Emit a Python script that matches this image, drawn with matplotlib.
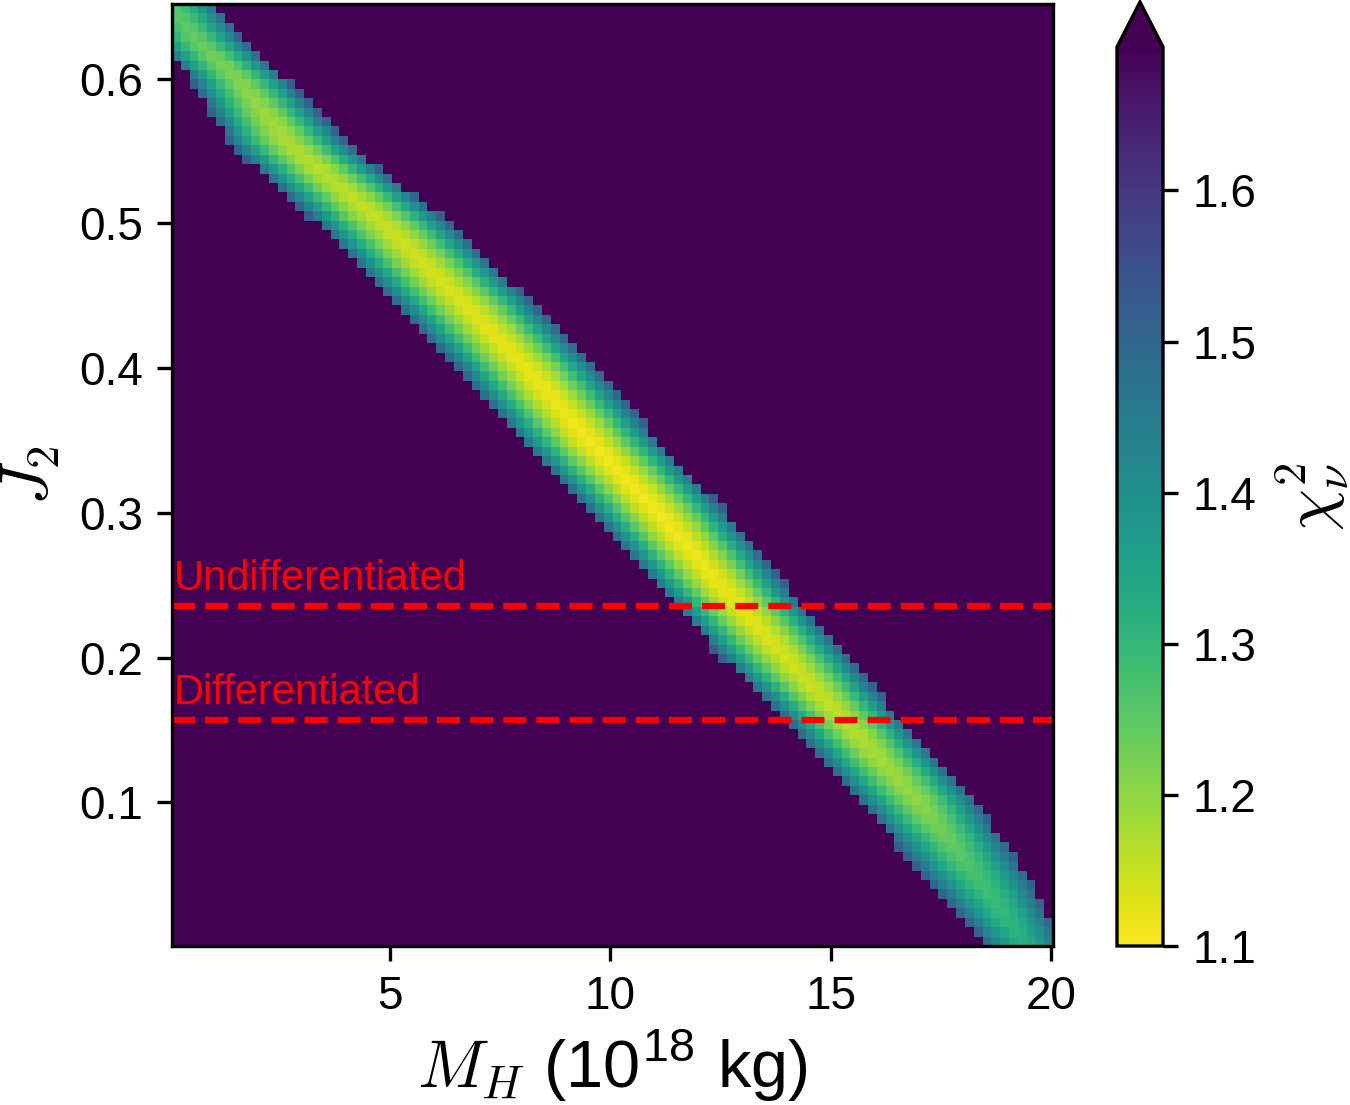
import numpy as np
import matplotlib
matplotlib.use("Agg")
import matplotlib.pyplot as plt

plt.rcParams['font.family'] = ['Liberation Sans', 'DejaVu Sans']
plt.rcParams['mathtext.fontset'] = 'cm'

# --- data ---
# grid extent (cell edges)
m_edges_range = (0.05, 20.05)      # M_H (10^18 kg)
j2_edges_range = (0.0008, 0.6515)  # J2
n_cells = 100

# band description, sampled at several J2 rows (center and half-width of the coloured band,
# minimum chi2 along the row)
j2_rows      = [0.6515, 0.627, 0.60, 0.555, 0.50, 0.444, 0.40, 0.35, 0.30, 0.236, 0.198, 0.157, 0.10, 0.053, 0.011, 0.0008]
band_center  = [0.00,   0.60,  1.55, 2.70,  4.85, 6.70,  8.10, 9.52, 11.10, 12.90, 14.03, 15.30, 17.00, 18.20, 19.20, 19.40]
band_halfw   = [1.05,   1.05,  1.08, 1.35,  1.52, 1.58,  1.58, 1.58, 1.56,  1.46,  1.45,  1.32,  1.32,  1.20,  0.92,  0.90]
chi2_min     = [1.26,   1.24,  1.21, 1.17,  1.15, 1.13,  1.12, 1.11, 1.11,  1.12,  1.14,  1.16,  1.20,  1.27,  1.31,  1.32]
chi2_band_edge = 1.52
chi2_outside = 2.0
chi2_vmin, chi2_vmax = 1.1, 1.695

undiff_J2 = 0.236
diff_J2 = 0.157

# --- build the chi2 field from the band description ---
m_edges = np.linspace(*m_edges_range, n_cells + 1)
j_edges = np.linspace(*j2_edges_range, n_cells + 1)
m_c = 0.5 * (m_edges[:-1] + m_edges[1:])
j_c = 0.5 * (j_edges[:-1] + j_edges[1:])
order = np.argsort(j2_rows)
jr = np.array(j2_rows)[order]
cen = np.interp(j_c, jr, np.array(band_center)[order])
hw = np.interp(j_c, jr, np.array(band_halfw)[order])
cmin = np.interp(j_c, jr, np.array(chi2_min)[order])
M, _ = np.meshgrid(m_c, j_c)
d = np.abs(M - cen[:, None]) / hw[:, None]
chi2 = cmin[:, None] + (chi2_band_edge - cmin[:, None]) * d**1.6
chi2[d > 1] = chi2_outside

fig = plt.figure(figsize=(4.5, 1105 / 300), dpi=300)
ax = fig.add_axes([172 / 1350, 1 - 946 / 1105, (1053 - 172) / 1350, (946 - 4) / 1105])
cax = fig.add_axes([1117 / 1350, 1 - 946 / 1105, (1163 - 1117) / 1350, (946 - 2) / 1105])

pc = ax.pcolormesh(m_edges, j_edges, chi2, cmap='viridis_r', vmin=chi2_vmin, vmax=chi2_vmax,
                   shading='flat', rasterized=True)
ax.set_xlim(m_edges[0], m_edges[-1])
ax.set_ylim(j_edges[0], j_edges[-1])

ax.axhline(undiff_J2, color='red', ls='--', lw=1.5)
ax.axhline(diff_J2, color='red', ls='--', lw=1.5)
ax.text(0.09, undiff_J2 + 0.0105, 'Undifferentiated', color='red', fontsize=10, va='baseline', ha='left')
ax.text(0.09, diff_J2 + 0.011, 'Differentiated', color='red', fontsize=10, va='baseline', ha='left')

ax.set_xticks([5, 10, 15, 20])
ax.set_yticks([0.1, 0.2, 0.3, 0.4, 0.5, 0.6])
ax.tick_params(labelsize=11, width=0.8, length=3.5)
ax.set_xlabel(r'$M_H$ (10$^{\mathregular{18}}$ kg)', fontsize=16, labelpad=2)
ax.set_ylabel(r'$J_2$', fontsize=16, labelpad=4)
for s in ax.spines.values():
    s.set_linewidth(0.8)

cb = fig.colorbar(pc, cax=cax, extend='max')
cb.set_ticks([1.1, 1.2, 1.3, 1.4, 1.5, 1.6])
cb.ax.tick_params(labelsize=11, width=0.8, length=3.5)
cb.set_label(r'$\chi^2_\nu$', fontsize=16, labelpad=4)
cb.outline.set_linewidth(0.8)

fig.savefig('out.png', dpi=300)
